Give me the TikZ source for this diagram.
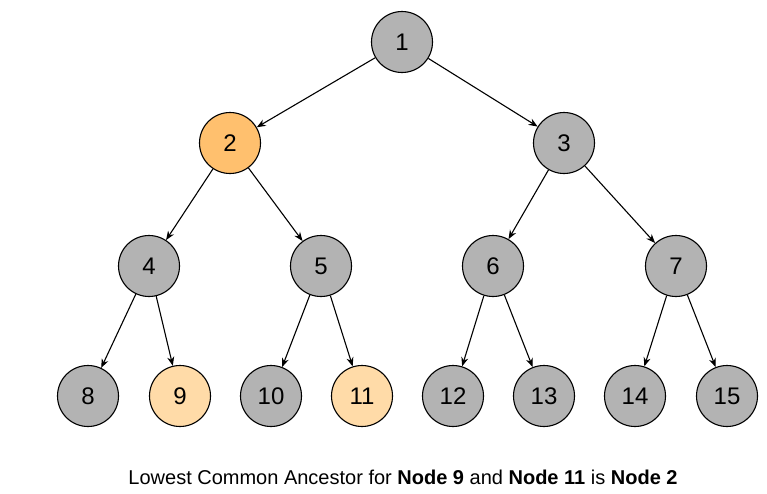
\documentclass[tikz,border=0pt]{standalone}
\usepackage{fontspec}
\setmainfont{Liberation Sans}
\usetikzlibrary{arrows.meta}
\definecolor{ngray}{HTML}{B3B3B3}
\definecolor{norange}{HTML}{FFC06E}
\definecolor{nlight}{HTML}{FFDBA8}
\begin{document}
\begin{tikzpicture}[x=1pt,y=-1pt,
  tn/.style={circle,draw=black,line width=1.1pt,fill=ngray,minimum size=61pt,inner sep=0pt,font=\fontsize{24}{26}\selectfont},
  edge/.style={line width=1.1pt,-{Stealth[length=9pt,width=7pt]}}]
\useasboundingbox (0,0) rectangle (767,493);
\node[tn] (n1) at (402,42) {1};
\node[tn,fill=norange] (n2) at (230,143) {2};
\node[tn] (n3) at (564,143) {3};
\node[tn] (n4) at (149,266) {4};
\node[tn] (n5) at (321,266) {5};
\node[tn] (n6) at (493,266) {6};
\node[tn] (n7) at (676,266) {7};
\node[tn] (n8) at (88,396) {8};
\node[tn,fill=nlight] (n9) at (180,396) {9};
\node[tn] (n10) at (271,396) {10};
\node[tn,fill=nlight] (n11) at (362,396) {11};
\node[tn] (n12) at (453,396) {12};
\node[tn] (n13) at (544,396) {13};
\node[tn] (n14) at (635,396) {14};
\node[tn] (n15) at (727,396) {15};
\draw[edge] (n1) -- (n2);
\draw[edge] (n1) -- (n3);
\draw[edge] (n2) -- (n4);
\draw[edge] (n2) -- (n5);
\draw[edge] (n3) -- (n6);
\draw[edge] (n3) -- (n7);
\draw[edge] (n4) -- (n8);
\draw[edge] (n4) -- (n9);
\draw[edge] (n5) -- (n10);
\draw[edge] (n5) -- (n11);
\draw[edge] (n6) -- (n12);
\draw[edge] (n6) -- (n13);
\draw[edge] (n7) -- (n14);
\draw[edge] (n7) -- (n15);
\node[font=\fontsize{20}{23}\selectfont] (cap) at (403,477) {Lowest Common Ancestor for \textbf{Node 9} and \textbf{Node 11} is \textbf{Node 2}};
\end{tikzpicture}
\end{document}
